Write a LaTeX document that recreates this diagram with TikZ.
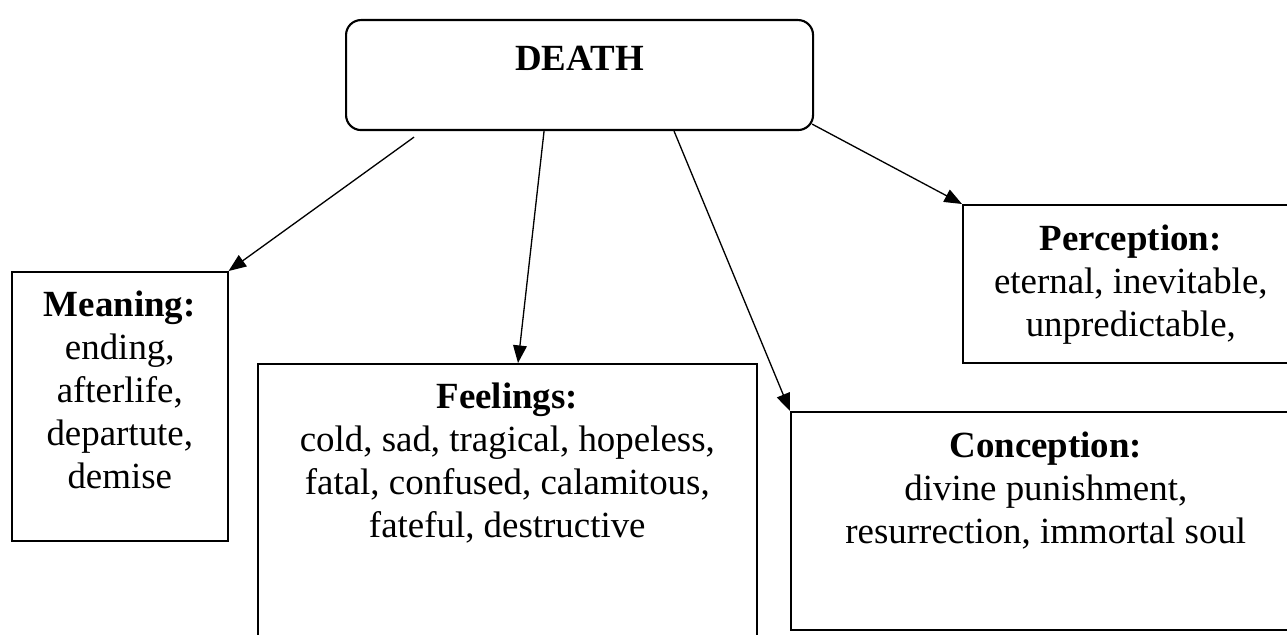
\documentclass[tikz,border=0pt]{standalone}
\usepackage{fontspec}
\setmainfont{Liberation Serif}
\usetikzlibrary{positioning, arrows.meta}

\begin{document}
\begin{tikzpicture}[auto,>={Triangle[length=10pt,width=7.8pt]},font=\fontsize{21}{24.4}\selectfont]

	\tikzstyle{box}=[draw=black,line width=0.9pt,rectangle,anchor=north west,inner sep=0pt]
	\tikzstyle{txt}=[align=center,inner sep=0pt]
	\tikzstyle{link}=[->,line width=0.75pt]

	\useasboundingbox (0,0) rectangle (25.74,12.7);

	\node[box, rounded corners=0.3cm, line width=1.2pt, minimum width=9.34cm, minimum height=2.2cm] (death) at (6.9,12.32) {};
	\node[box, minimum width=4.32cm, minimum height=5.38cm] (mean) at (0.22,7.28) {};
	\node[box, minimum width=9.98cm, minimum height=5.6cm] (feel) at (5.14,5.44) {};
	\node[box, minimum width=10.2cm, minimum height=4.36cm] (conc) at (15.8,4.48) {};
	\node[box, minimum width=6.72cm, minimum height=3.16cm] (perc) at (19.24,8.62) {};

	\node[txt, below=0.53cm of death.north] (deathtxt) {\textbf{DEATH}};
	\node[txt, below=0.4cm of mean.north] (meantxt) {\textbf{Meaning:}\\ending,\\afterlife,\\departute,\\demise};
	\node[txt, below=0.4cm of feel.north] (feeltxt) {\textbf{Feelings:}\\cold, sad, tragical, hopeless,\\fatal, confused, calamitous,\\fateful, destructive};
	\node[txt, below=0.42cm of conc.north] (conctxt) {\textbf{Conception:}\\divine punishment,\\resurrection, immortal soul};
	\node[txt, below=0.42cm of perc.north] (perctxt) {\textbf{Perception:}\\eternal, inevitable,\\unpredictable,};

	\draw[link] ([xshift=-3.31cm,yshift=-0.12cm]death.south) -- (mean.north east);
	\draw[link] ([xshift=-0.71cm]death.south) -- ([xshift=5.22cm]feel.north west);
	\draw[link] ([xshift=1.89cm]death.south) -- (conc.north west);
	\draw[link] ([xshift=-0.04cm,yshift=0.14cm]death.south east) -- (perc.north west);
\end{tikzpicture}
\end{document}
